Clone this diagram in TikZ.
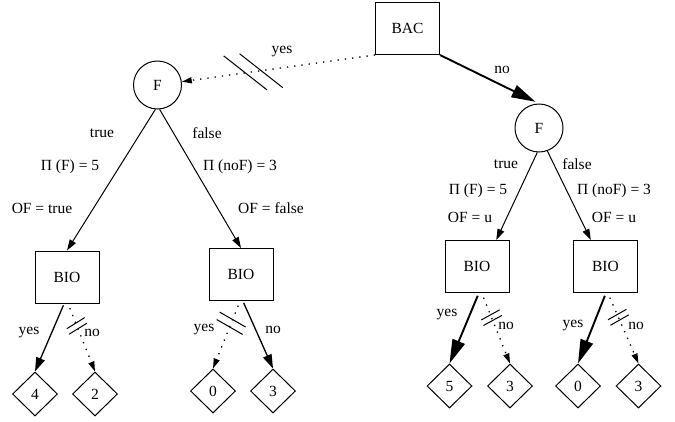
\documentclass[tikz,border=0pt]{standalone}
\usepackage{fontspec}
\setmainfont{Liberation Serif}
\usetikzlibrary{arrows.meta,shapes.geometric,decorations.markings}

\tikzset{
  box/.style={draw,line width=1pt,minimum width=64pt,minimum height=52pt,inner sep=0pt},
  chance/.style={draw,circle,line width=1pt,minimum size=48pt,inner sep=0pt},
  leaf/.style={draw,diamond,line width=1pt,minimum width=45pt,minimum height=44pt,inner sep=0pt},
  lbl/.style={inner sep=0pt},
  thin edge/.style={line width=1pt,-{Triangle[length=11pt,width=7pt]}},
  mid edge/.style={line width=1.3pt,shorten <=2pt,-{Triangle[length=14pt,width=9pt]}},
  bold edge/.style={line width=1.9pt,-{Triangle[length=24pt,width=13pt]}},
  dot edge/.style={line width=1.3pt,dash pattern=on 1.3pt off 6pt,-{Triangle[length=10pt,width=6pt]}},
  broken/.style n args={4}{postaction={decorate,decoration={markings,
     mark=at position #1 with {
       \draw[solid,-,line width=1pt,shorten <=0pt,shorten >=0pt]
         (-#4/2,0pt) ++(#2:-#3/2) -- ++(#2:#3);
       \draw[solid,-,line width=1pt,shorten <=0pt,shorten >=0pt]
         (#4/2,0pt) ++(#2:-#3/2) -- ++(#2:#3);}}}}
}

\begin{document}
\begin{tikzpicture}[x=1pt,y=-1pt,font=\fontsize{15.5}{18}\selectfont]
  \useasboundingbox (0,0) rectangle (675,421);
  % decision and chance nodes
  \node[box] (bac) at (407.5,28.5) {BAC};
  \node[chance] (f1) at (157.5,85) {F};
  \node[chance] (f2) at (539,128) {F};
  \node[box] (bio1) at (67,277) {BIO};
  \node[box] (bio2) at (241,274.5) {BIO};
  \node[box] (bio3) at (477,266.5) {BIO};
  \node[box] (bio4) at (605.5,266.5) {BIO};
  % utilities
  \node[leaf] (u1) at (35,394) {4};
  \node[leaf] (u2) at (95,394) {2};
  \node[leaf] (u3) at (213,391) {0};
  \node[leaf] (u4) at (273,391) {3};
  \node[leaf] (u5) at (449.5,386) {5};
  \node[leaf] (u6) at (510,386) {3};
  \node[leaf] (u7) at (578,386) {0};
  \node[leaf] (u8) at (638.5,386) {3};
  % edges
  \draw[dot edge,broken={0.63}{134}{55pt}{16pt}] (bac.south west) -- (f1);
  \draw[bold edge,shorten >=4pt] (bac.south east) -- (f2.north);
  \draw[thin edge] (f1.265) -- (bio1.north);
  \draw[thin edge] (f1.275) -- (bio2.north);
  \draw[thin edge] (f2.266) -- (bio3.54);
  \draw[thin edge] (f2.290) -- (bio4.119);
  \draw[mid edge] (bio1.264) -- (u1.north);
  \draw[dot edge,shorten <=5pt,broken={0.33}{100}{21pt}{6pt}] (bio1.272) -- (u2.north);
  \draw[dot edge,shorten <=5pt,broken={0.33}{82}{30pt}{8pt}] (bio2.268) -- (u3.north);
  \draw[mid edge] (bio2.274) -- (u4.north);
  \draw[bold edge,shorten <=3pt] (bio3.274) -- (u5.north);
  \draw[dot edge,shorten <=5pt,broken={0.35}{97}{21pt}{6pt}] (bio3.280) -- (u6.north);
  \draw[bold edge,shorten <=3pt] (bio4.271) -- (u7.north);
  \draw[dot edge,shorten <=5pt,broken={0.345}{96}{21pt}{6pt}] (bio4.275) -- (u8.north);
  % labels
  \node[lbl] (ya) at (282,52) {yes};
  \node[lbl] (na) at (502,70) {no};
  \node[lbl] (t1) at (102,133) {true};
  \node[lbl] (p1) at (70,167) {Π (F) = 5};
  \node[lbl] (o1) at (42,208) {OF = true};
  \node[lbl] (t2) at (207,133) {false};
  \node[lbl] (p2) at (240,167) {Π (noF) = 3};
  \node[lbl] (o2) at (271,208) {OF = false};
  \node[lbl] (t3) at (506,164) {true};
  \node[lbl] (p3) at (478,191) {Π (F) = 5};
  \node[lbl] (o3) at (470,217) {OF = u};
  \node[lbl] (t4) at (577,164) {false};
  \node[lbl] (p4) at (614,191) {Π (noF) = 3};
  \node[lbl] (o4) at (614,217) {OF = u};
  \node[lbl] (yb) at (29,333) {yes};
  \node[lbl] (nb) at (92,333) {no};
  \node[lbl] (yc) at (204,330) {yes};
  \node[lbl] (nc) at (273,330) {no};
  \node[lbl] (yd) at (447,315) {yes};
  \node[lbl] (nd) at (506,326) {no};
  \node[lbl] (ye) at (573,326) {yes};
  \node[lbl] (ne) at (636,326) {no};
\end{tikzpicture}
\end{document}
